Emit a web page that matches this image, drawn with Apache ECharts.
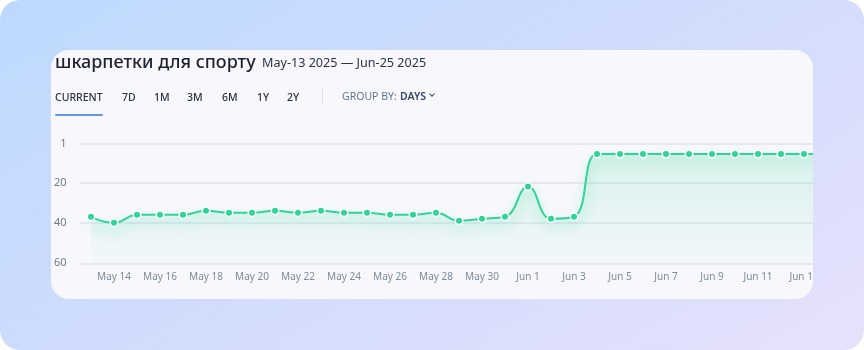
<!DOCTYPE html>
<html>
<head>
<meta charset="utf-8">
<script src="https://cdn.jsdelivr.net/npm/echarts@6/dist/echarts.min.js"></script>
<style>
  html, body { margin: 0; padding: 0; width: 864px; height: 350px; background: #ffffff; overflow: hidden; }
  #bg { position: absolute; left: 0; top: 0; width: 864px; height: 350px; border-radius: 20px;
        background: linear-gradient(150deg, #bdd9ff 0%, #cfdcfd 45%, #e6e1fb 100%); }
  #card { position: absolute; left: 51px; top: 50px; width: 762px; height: 249px; border-radius: 18px;
          background: #f8f8fc; overflow: hidden; }
  #chart { position: absolute; left: -51px; top: -50px; width: 900px; height: 350px; }
  .t { position: absolute; white-space: nowrap; font-family: "Noto Sans", sans-serif; }
  #title { left: 4px; top: -1px; font-size: 18px; font-weight: 500; color: #1c2130; line-height: 24px; }
  #range { left: 211px; top: 4px; font-size: 12.6px; font-weight: 400; color: #2b3243; line-height: 17px; }
  .tab { top: 40px; font-size: 10.5px; font-weight: 500; color: #2a3142; line-height: 14px; }
  #underline { position: absolute; left: 4px; top: 64px; width: 48px; height: 2px; border-radius: 1px; background: #5f97f3; }
  #divider { position: absolute; left: 271px; top: 37px; width: 1px; height: 18px; background: #dfe2ea; }
  #groupby { left: 291px; top: 38.5px; font-size: 10.5px; font-weight: 400; color: #66778b; line-height: 14px; }
  #days { left: 349px; top: 38.5px; font-size: 10.5px; font-weight: 600; color: #35466a; line-height: 14px; }
  #chev { position: absolute; left: 378.5px; top: 42px; width: 3px; height: 3px; border-right: 1.2px solid #35466a; border-bottom: 1.2px solid #35466a; transform: rotate(45deg); }
</style>
</head>
<body>
<div id="bg"></div>
<div id="card">
  <div id="chart"></div>
  <div class="t" id="title">шкарпетки для спорту</div>
  <div class="t" id="range">May-13 2025 — Jun-25 2025</div>
  <div class="t tab" style="left:4px">CURRENT</div>
  <div class="t tab" style="left:71px">7D</div>
  <div class="t tab" style="left:103px">1M</div>
  <div class="t tab" style="left:136px">3M</div>
  <div class="t tab" style="left:171px">6M</div>
  <div class="t tab" style="left:206px">1Y</div>
  <div class="t tab" style="left:236px">2Y</div>
  <div id="underline"></div>
  <div id="divider"></div>
  <div class="t" id="groupby">GROUP BY:</div>
  <div class="t" id="days">DAYS</div>
  <div id="chev"></div>
</div>
<script>
// Categories: days (May 13 – Jun 14 visible in the crop)
const dates = [
  "May 13","May 14","May 15","May 16","May 17","May 18","May 19","May 20","May 21","May 22",
  "May 23","May 24","May 25","May 26","May 27","May 28","May 29","May 30","May 31",
  "Jun 1","Jun 2","Jun 3","Jun 4","Jun 5","Jun 6","Jun 7","Jun 8","Jun 9","Jun 10",
  "Jun 11","Jun 12","Jun 13","Jun 14"
];
// Search position (rank), lower is better
const positions = [
  37, 40, 36, 36, 36, 34, 35, 35, 34, 35,
  34, 35, 35, 36, 36, 35, 39, 38, 37,
  22, 38, 37, 6, 6, 6, 6, 6, 6, 6,
  6, 6, 6, 6
];
// Y tick labels
const yTickValues = [1, 20, 40, 60];

const chart = echarts.init(document.getElementById('chart'), null, { renderer: 'canvas' });
const green = '#2fd497';
const font = '"Noto Sans", sans-serif';
chart.setOption({
  animation: false,
  grid: { left: 79.5, right: 61.5, top: 144, bottom: 86.7 },
  xAxis: {
    type: 'category',
    data: dates,
    boundaryGap: true,
    axisLine: { show: false },
    axisTick: { show: false },
    splitLine: { show: false },
    axisLabel: {
      interval: function (i) { return i % 2 === 1; },
      color: '#7d8a9d', fontSize: 10, fontFamily: font, margin: 9
    }
  },
  yAxis: {
    type: 'value',
    inverse: true,
    min: yTickValues[0], max: yTickValues[yTickValues.length - 1],
    axisLine: { show: false },
    axisTick: { show: false, customValues: yTickValues },
    axisLabel: { color: '#6d7b8e', fontSize: 11, fontFamily: font, margin: 13, customValues: yTickValues },
    splitLine: { lineStyle: { color: '#e1e3ec', width: 1.5 } }
  },
  series: [{
    type: 'line',
    data: positions,
    smooth: 0.45,
    symbol: 'circle',
    symbolSize: 7.5,
    itemStyle: { color: green, borderColor: '#ffffff', borderWidth: 1.5 },
    lineStyle: { color: green, width: 2, shadowColor: 'rgba(47,212,151,0.6)', shadowBlur: 12, shadowOffsetY: 6 },
    areaStyle: {
      origin: 'end',
      color: new echarts.graphic.LinearGradient(0, 0, 0, 1, [
        { offset: 0, color: 'rgba(47,212,151,0.22)' },
        { offset: 1, color: 'rgba(47,212,151,0.03)' }
      ])
    }
  }]
});
</script>
</body>
</html>
